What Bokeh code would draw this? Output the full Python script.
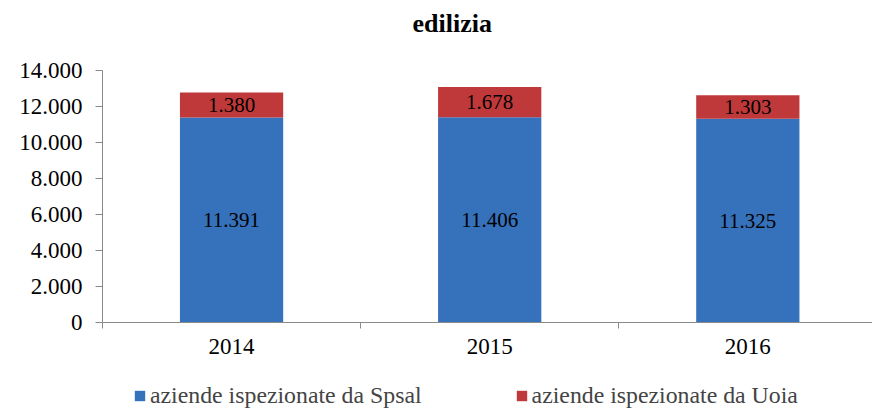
from bokeh.plotting import figure
from bokeh.models import ColumnDataSource, FixedTicker, Legend, LegendItem, Range1d, LabelSet, Label
from bokeh.layouts import column
from bokeh.embed import file_html
from bokeh.resources import INLINE

title_text = "edilizia"
years = ["2014", "2015", "2016"]
spsal = [11391, 11406, 11325]
uoia = [1380, 1678, 1303]
series_names = ["aziende ispezionate da Spsal", "aziende ispezionate da Uoia"]
series_colors = ["#3671bb", "#c0393a"]
y_ticks = [0, 2000, 4000, 6000, 8000, 10000, 12000, 14000]

def fmt(v):
    return f"{v:,}".replace(",", ".")

xs = [i + 1 for i in range(len(years))]
src = ColumnDataSource(dict(
    x=xs,
    spsal=spsal,
    uoia=uoia,
    top=[a + b for a, b in zip(spsal, uoia)],
    spsal_mid=[a / 2 for a in spsal],
    uoia_mid=[a + b / 2 for a, b in zip(spsal, uoia)],
    spsal_lbl=[fmt(v) for v in spsal],
    uoia_lbl=[fmt(v) for v in uoia],
))

FONT = "Liberation Serif"
LEFT = 102

def strip(height):
    f = figure(width=872, height=height, output_backend="svg", toolbar_location=None,
               x_range=Range1d(0.5, 3.483), y_range=Range1d(0, 14000),
               x_axis_location=None, y_axis_location=None,
               min_border_left=LEFT, min_border_right=0, min_border_top=0, min_border_bottom=0)
    f.grid.visible = False
    f.outline_line_color = None
    return f

# title strip
tt = strip(57)
tt.add_layout(Label(x=310, y=34, x_units="screen", y_units="screen", text=title_text,
                    text_font=FONT, text_font_size="26px", text_font_style="bold",
                    text_color="black", text_align="left", text_baseline="alphabetic"))

p = figure(width=872, height=308, output_backend="svg", toolbar_location=None,
           x_range=Range1d(0.5, 3.483), y_range=Range1d(0, 14000),
           min_border_left=LEFT, min_border_right=0, min_border_top=13, min_border_bottom=43)
p.xgrid.visible = False
p.ygrid.visible = False
p.outline_line_color = None

def draw_bars(fig):
    a = fig.vbar(x="x", bottom=0, top="spsal", width=0.40, source=src,
                 fill_color=series_colors[0], line_color=None)
    b = fig.vbar(x="x", bottom="spsal", top="top", width=0.40, source=src,
                 fill_color=series_colors[1], line_color=None)
    return a, b

draw_bars(p)

for col, ycol in (("spsal_lbl", "spsal_mid"), ("uoia_lbl", "uoia_mid")):
    p.add_layout(LabelSet(x="x", y=ycol, text=col, source=src, text_align="center",
                          text_baseline="middle", text_font=FONT, text_font_size="21px",
                          text_color="black"))

p.xaxis.ticker = FixedTicker(ticks=xs, minor_ticks=[0.5, 1.5, 2.5, 3.5])
p.xaxis.major_label_overrides = {x: y for x, y in zip(xs, years)}
p.xaxis.major_tick_out = 0
p.xaxis.major_tick_in = 0
p.xaxis.minor_tick_out = 6
p.xaxis.minor_tick_in = 0
p.xaxis.major_label_standoff = 10
p.yaxis.ticker = FixedTicker(ticks=y_ticks)
p.yaxis.major_label_overrides = {t: fmt(t) for t in y_ticks}
p.yaxis.major_tick_out = 7
p.yaxis.major_tick_in = 0
p.yaxis.minor_tick_out = 0
p.yaxis.minor_tick_in = 0
p.yaxis.major_label_standoff = 13
for ax in (p.xaxis, p.yaxis):
    ax.axis_line_color = "#8a8a8a"
    ax.major_tick_line_color = "#8a8a8a"
    ax.minor_tick_line_color = "#8a8a8a"
    ax.major_label_text_font = FONT
    ax.major_label_text_font_size = "23px"
    ax.major_label_text_color = "black"

# legend strip (hidden renderers, only their legend glyphs show)
lg = strip(44)
rs = draw_bars(lg)
for r in rs:
    r.visible = False
items = [LegendItem(label=n, renderers=[r]) for n, r in zip(series_names, rs)]
legend = Legend(items=items, orientation="horizontal", location=(31, 0),
                label_text_font=FONT, label_text_font_size="23.8px",
                glyph_width=13, glyph_height=13, label_standoff=4, spacing=93,
                padding=0, margin=0, border_line_color=None, background_fill_alpha=0,
                inactive_fill_alpha=0)
lg.add_layout(legend, "center")

layout = column(tt, p, lg, spacing=0)
open("out.html", "w").write(file_html(layout, INLINE))
